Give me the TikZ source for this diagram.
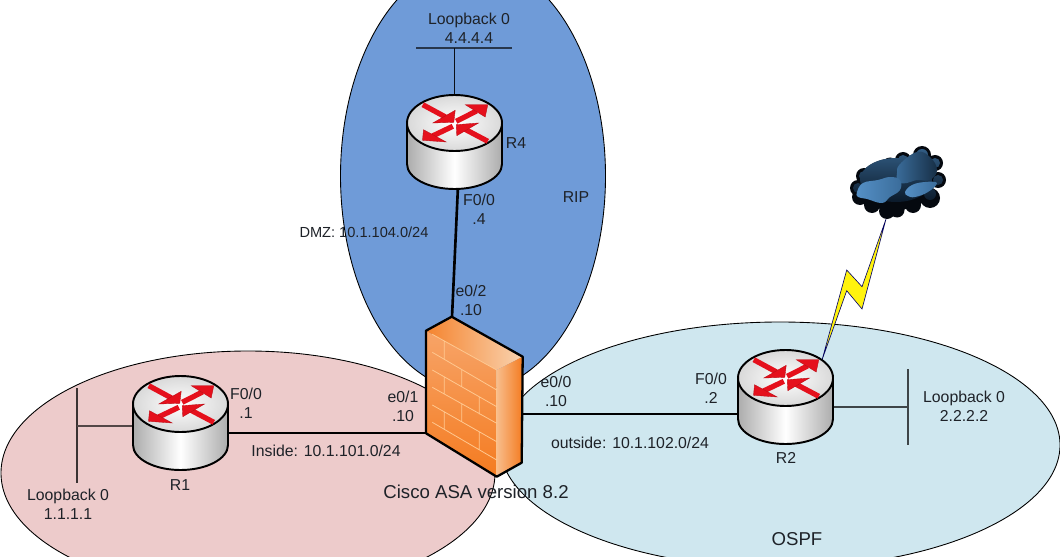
\documentclass[tikz,border=0pt]{standalone}
\usepackage{fontspec}
\setmainfont{Liberation Sans}
\definecolor{pinkzone}{HTML}{EDCBCB}
\definecolor{bluezone}{HTML}{6F9BD8}
\definecolor{skyzone}{HTML}{CFE7EF}
\definecolor{fworange}{HTML}{F47B20}
\definecolor{fwpale}{HTML}{F9D3B0}
\definecolor{fwmid}{HTML}{F7A468}
\definecolor{fwbrick}{HTML}{FFC890}
\definecolor{arrowred}{HTML}{E5101C}
\definecolor{inktext}{HTML}{1E2228}
\definecolor{cloudink}{HTML}{05090F}
\definecolor{clouddark}{HTML}{0B1A2A}
\definecolor{cloudmid}{HTML}{3A6C9A}
\definecolor{cloudlight}{HTML}{5590C6}

\begin{document}
\begin{tikzpicture}[
        x=0.02cm, y=-0.02cm,
        % Styles des zones
        zone/.style={draw=black, line width=0.5pt},
        % Styles des liens
        link/.style={draw=black, line width=1.5pt},
        stub/.style={line width=0.7pt},
        % Styles des textes
        lbl/.style={font=\fontsize{9}{10.9}\selectfont, text=inktext, align=center, inner sep=0pt},
        routerbox/.style={minimum width=1.9cm, minimum height=1.88cm, inner sep=0pt},
        rshaft/.style={draw=arrowred, line width=0.105cm},
        rhead/.style={fill=arrowred, draw=arrowred!80!black, line width=0.2pt},
        brick/.style={draw=fwbrick, line width=0.45pt},
        fwedge/.style={draw=black, line width=1.3pt, line join=round},
        router/.pic={
            \begin{scope}[shift={(0,-19)}]
            \draw[line width=1.1pt, left color=gray!65, right color=gray!65, middle color=white]
                (-47.5,0) -- (-47.5,41) arc[start angle=180, end angle=0, x radius=47.5, y radius=25] -- (47.5,0) -- cycle;
            \draw[line width=1.1pt, inner color=white, outer color=gray!30] (0,0) ellipse[x radius=47.5, y radius=28];
            % Fleches rouges
            \draw[rshaft] (-31.7,-18.3) -- (-9,-6);
            \fill[rhead] (0.7,-12.7) -- (-0.7,-0.7) -- (-21.7,0) -- cycle;
            \draw[rshaft] (1.7,-1.7) -- (22,-12);
            \fill[rhead] (10.7,-18.3) -- (33.3,-18.3) -- (30.7,-6) -- cycle;
            \draw[rshaft] (-1.7,3.3) -- (-22,13);
            \fill[rhead] (-31,6.7) -- (-32,17.3) -- (-8.3,19) -- cycle;
            \draw[rshaft] (33.3,18.3) -- (10,6);
            \fill[rhead] (24,0) -- (1.7,1.7) -- (2.3,12.7) -- cycle;
            \end{scope}
        }
    ]

    \useasboundingbox (0,0) rectangle (1060,557);
    \fill[white] (0,0) rectangle (1060,557);
    \clip (0,0) rectangle (1060,557);

    % Zones
    \draw[zone, fill=pinkzone] (248,473) ellipse[x radius=247, y radius=122];
    \draw[zone, fill=bluezone] (473,176) ellipse[x radius=132.5, y radius=215];
    \draw[zone, fill=skyzone] (780,445) ellipse[x radius=280, y radius=123];

    % Routeurs et pare-feu
    \node[routerbox] (R1) at (180.5,423) {};
    \node[routerbox] (R2) at (785.5,397) {};
    \node[routerbox] (R4) at (454.5,142) {};
    \coordinate (fwW) at (426,433);
    \coordinate (fwE) at (522,414);
    \coordinate (fwN) at (452,317);
    \coordinate (R4s) at (458,186);
    \coordinate (cloudfoot) at (886,219);
    \coordinate (R2top) at (822,360);

    % Liens
    \draw[link] (fwW) -- (fwW -| R1.east);
    \draw[link] (fwE) -- (fwE -| R2.west);
    \draw[link] (fwN) -- (R4s);

    % Loopbacks
    \coordinate (lo1a) at (77,388);
    \coordinate (lo1b) at (77,483);
    \coordinate (lo1c) at (77,426);
    \coordinate (lo2a) at (908,369);
    \coordinate (lo2b) at (908,445);
    \coordinate (lo2c) at (908,407);
    \coordinate (lo4a) at (416,48);
    \coordinate (lo4b) at (512,48);
    \coordinate (lo4c) at (454,48);
    \draw[stub, draw=black!75!pinkzone] (lo1a) -- (lo1b);
    \draw[stub, draw=black!65!pinkzone] (lo1c) -- (lo1c -| R1.west);
    \draw[stub, draw=black!70!skyzone] (lo2a) -- (lo2b);
    \draw[stub, draw=black!70!skyzone] (lo2c) -- (lo2c -| R2.east);
    \draw[stub, draw=black!65!bluezone] (lo4a) -- (lo4b);
    \draw[line width=0.5pt, draw=black!90!bluezone] (lo4c) -- (lo4c |- R4.north);

    % Eclair
    \draw[draw=blue!40!black, line width=0.35pt, fill=yellow!95!white, line join=miter]
        (cloudfoot) -- (862,286.7) -- (846.7,270) -- (R2top) -- (846.7,290.7) -- (862,309) -- cycle;

    \pic at (R1) {router};
    \pic at (R2) {router};
    \pic at (R4) {router};

    % Nuage
    \fill[cloudink] (896,184) ellipse[x radius=38, y radius=26]
        (858,188) circle[radius=8] (864,176) circle[radius=8] (878,172) circle[radius=8]
        (890,165) circle[radius=7.5] (903,160) circle[radius=8] (922,155) circle[radius=9]
        (935,163) circle[radius=8] (938,180) circle[radius=8] (930,198) circle[radius=10]
        (913,205) circle[radius=8] (897,210) circle[radius=7.5] (887,211) circle[radius=8]
        (872,205) circle[radius=8] (860,197) circle[radius=8];
    \shade[top color=cloudmid!85!black, bottom color=clouddark] (896,180) ellipse[x radius=36, y radius=22]
        (858,188) circle[radius=5] (864,176) circle[radius=5] (878,172) circle[radius=5]
        (890,165) circle[radius=4.5] (903,160) circle[radius=5] (922,155) circle[radius=6]
        (935,163) circle[radius=5] (938,180) circle[radius=5] (930,194) circle[radius=6];
    \shade[left color=cloudmid, right color=clouddark!75!cloudmid] plot[smooth cycle, tension=0.7] coordinates {
        (897,173) (900,164) (917,152) (930,157) (937,170) (930,180) (917,180) (907,183) (898,182)};
    \shade[left color=cloudlight, right color=cloudmid] plot[smooth cycle, tension=0.7] coordinates {
        (857,192) (863,183) (878,180) (890,177) (900,180) (900,190) (890,197) (882,203) (867,199) (858,197)};
    \shade[left color=cloudlight, right color=cloudmid] plot[smooth cycle, tension=0.7] coordinates {
        (905,192) (912,185) (925,182) (937,183) (928,192) (915,197) (908,196)};

    % Pare-feu
    \shade[shading angle=-35, top color=fwmid, bottom color=fworange] (426,330.7) -- (496.7,370) -- (496.7,476.7) -- (426,433.3) -- cycle;
    \shade[left color=fworange!90!fwpale, right color=fwpale] (426,330.7) -- (451.7,316.7) -- (522.7,356.7) -- (496.7,370) -- cycle;
    \shade[left color=fwpale!75!fworange, right color=fworange] (496.7,370) -- (522.7,356.7) -- (521.7,462.7) -- (496.7,476.7) -- cycle;
    \draw[brick] (432.3,334.3) -- (496.7,370) -- (496.7,476.7)
        (432.3,352.3) -- (496.7,390) (432.3,370) -- (496.7,406.7) (432.3,387.3) -- (496.7,423.3)
        (432.3,405) -- (496.7,441.7) (432.3,422.3) -- (496.7,460)
        (444.3,341.7) -- (444.3,359) (461.7,369) -- (461.7,386.7) (444.3,376.7) -- (444.3,394)
        (479.3,396.7) -- (479.3,414.3) (461.7,404.3) -- (461.7,421.7) (444.3,411.7) -- (444.3,429)
        (479.3,431.7) -- (479.3,449.3);
    \draw[fwedge] (426,330.7) -- (451.7,316.7) -- (522.7,356.7) -- (521.7,462.7) -- (496.7,476.7) -- (426,433.3) -- cycle;

    % Textes
    \node[lbl] (lo4text) at (469,28) {Loopback 0\\4.4.4.4};
    \node[lbl] (r4name) at (516,143) {R4};
    \node[lbl] (r4port) at (479,209) {F0/0\\.4};
    \node[lbl] (ripname) at (576,197) {RIP};
    \node[lbl, font=\fontsize{8.3}{10}\selectfont] (dmznet) at (364,232) {DMZ: 10.1.104.0/24};
    \node[lbl] (fwport2) at (471,300) {e0/2\\.10};
    \node[lbl] (fwport1) at (403,406.5) {e0/1\\.10};
    \node[lbl] (fwport0) at (556,391.5) {e0/0\\.10};
    \node[lbl] (r1port) at (246,403) {F0/0\\.1};
    \node[lbl] (insidenet) at (326,451) {Inside: 10.1.101.0/24};
    \node[lbl] (r1name) at (180,485) {R1};
    \node[lbl] (lo1text) at (68,504.5) {Loopback 0\\1.1.1.1};
    \node[lbl] (outsidenet) at (630,443) {outside: 10.1.102.0/24};
    \node[lbl] (r2port) at (711,388) {F0/0\\.2};
    \node[lbl] (r2name) at (786,458) {R2};
    \node[lbl] (lo2text) at (964,406.5) {Loopback 0\\2.2.2.2};
    \node[lbl, font=\fontsize{10.6}{12}\selectfont] (fwname) at (476,492) {Cisco ASA version 8.2};
    \node[lbl, font=\fontsize{10.6}{12}\selectfont] (ospfname) at (797,539) {OSPF};

\end{tikzpicture}
\end{document}
